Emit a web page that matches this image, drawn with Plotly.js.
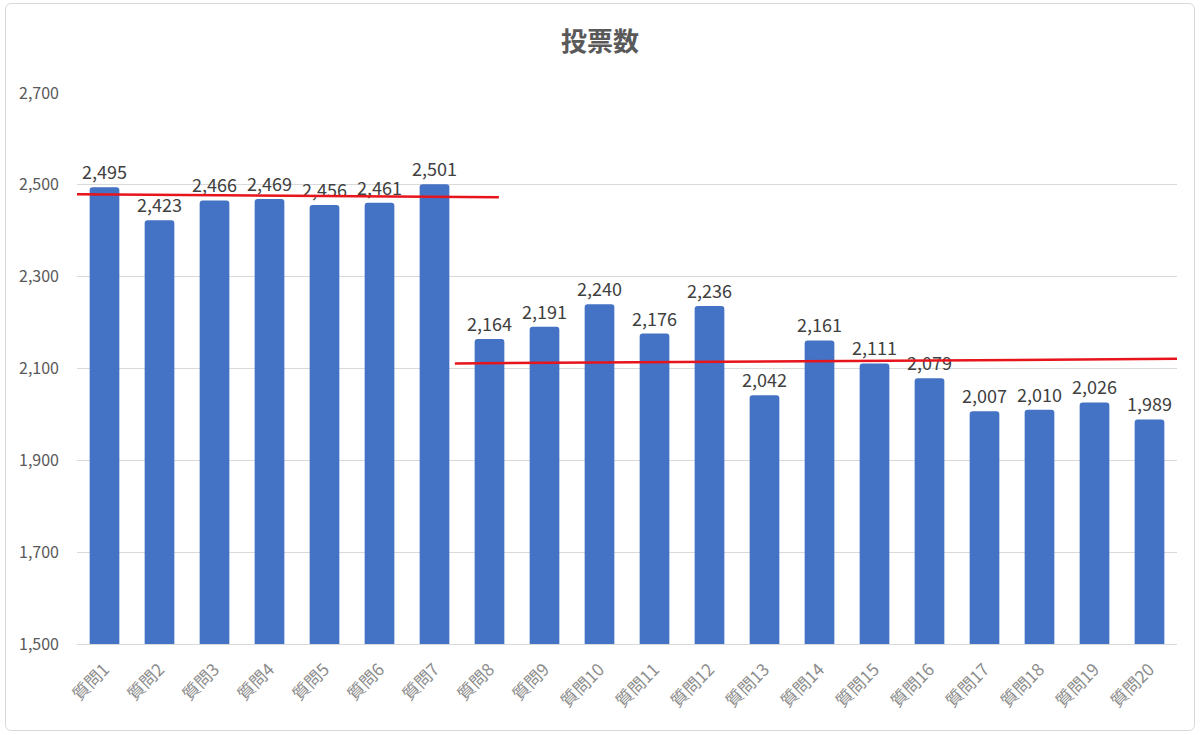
<!DOCTYPE html>
<html>
<head>
<meta charset="utf-8">
<script src="https://cdn.plot.ly/plotly-3.0.1.min.js"></script>
<style>
  html, body { margin: 0; padding: 0; background: #fff; }
  #wrap { position: relative; width: 1200px; height: 735px; }
  #chart { width: 1200px; height: 735px; }
  #frame {
    position: absolute; left: 5px; top: 3px; right: 5px; bottom: 4px;
    border: 1px solid #d9d9d9; border-radius: 6px; pointer-events: none;
  }
</style>
</head>
<body>
<div id="wrap">
  <div id="chart"></div>
  <div id="frame"></div>
</div>
<script>
var questions = ['質問1', '質問2', '質問3', '質問4', '質問5', '質問6', '質問7', '質問8', '質問9', '質問10',
  '質問11', '質問12', '質問13', '質問14', '質問15', '質問16', '質問17', '質問18', '質問19', '質問20'];
var votes = [2495, 2423, 2466, 2469, 2456, 2461, 2501, 2164, 2191, 2240,
  2176, 2236, 2042, 2161, 2111, 2079, 2007, 2010, 2026, 1989];
var yTicks = [1500, 1700, 1900, 2100, 2300, 2500, 2700];

// hand-drawn red guide lines: [x0, x1] in category position, [y0, y1] in votes
var guideA_x = [-0.95, 7.17];
var guideA_y = [2480, 2473];
var guideB_x = [6.37, 19.52];
var guideB_y = [2111, 2121];

var font = '"Noto Sans CJK JP", "Noto Sans", sans-serif';

function fmt(v) {
  return v.toLocaleString('en-US');
}

var trace = {
  type: 'bar',
  x: questions,
  y: votes,
  text: votes.map(fmt),
  textposition: 'outside',
  constraintext: 'none',
  cliponaxis: false,
  textfont: { family: font, size: 18, color: '#404040' },
  marker: { color: '#4472C4', cornerradius: 3 },
  hoverinfo: 'x+y',
};

function guide(xs, ys) {
  return {
    type: 'line',
    xref: 'x', yref: 'y',
    x0: xs[0], x1: xs[1], y0: ys[0], y1: ys[1],
    line: { color: '#e8141b', width: 2.5 },
    layer: 'above',
  };
}

var layout = {
  width: 1200,
  height: 735,
  title: {
    text: '<b>投票数</b>',
    font: { family: font, size: 26, color: '#595959' },
    x: 0.5, xanchor: 'center',
    y: 1 - 42 / 735, yref: 'container', yanchor: 'middle',
  },
  margin: { t: 93, r: 23, b: 91, l: 77 },
  paper_bgcolor: '#ffffff',
  plot_bgcolor: '#ffffff',
  bargap: 0.46,
  showlegend: false,
  font: { family: font, color: '#595959' },
  xaxis: {
    type: 'category',
    range: [-0.5, 19.5],
    tickangle: -45,
    tickfont: { family: font, size: 17, color: '#8c8c8c' },
    showgrid: false,
    showline: true,
    linecolor: '#d9d9d9',
    linewidth: 1,
    ticks: '',
    ticklabelstandoff: 8,
    fixedrange: true,
  },
  yaxis: {
    range: [1500, 2700],
    tickvals: yTicks,
    ticktext: yTicks.map(fmt),
    tickfont: { family: font, size: 16, color: '#595959' },
    showgrid: true,
    gridcolor: '#d9d9d9',
    gridwidth: 1,
    zeroline: false,
    showline: false,
    ticks: '',
    ticklabelstandoff: 17,
    fixedrange: true,
  },
  shapes: [guide(guideA_x, guideA_y), guide(guideB_x, guideB_y)],
};

Plotly.newPlot('chart', [trace], layout, { displayModeBar: false, staticPlot: true });
</script>
</body>
</html>
